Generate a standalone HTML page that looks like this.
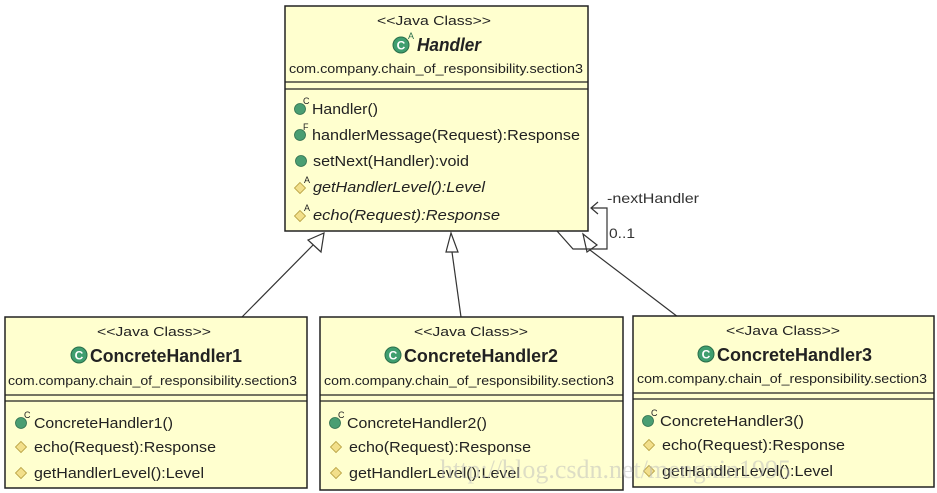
<!DOCTYPE html>
<html><head><meta charset="utf-8"><style>
body{margin:0;background:#fff;width:937px;height:493px;overflow:hidden}
svg{display:block;font-family:"Liberation Sans",Arial,sans-serif}
</style></head><body>
<svg width="937" height="493" viewBox="0 0 937 493" xmlns="http://www.w3.org/2000/svg">
<defs>
<g id="cg"><circle r="8" fill="#3f9e6f" stroke="#2a6e4a" stroke-width="1"/><text x="0" y="4.5" font-size="12" font-weight="bold" fill="#fff" text-anchor="middle">C</text></g>
<g id="dot"><circle r="5.5" fill="#4a9e72" stroke="#2f6f4f" stroke-width="0.8"/></g>
<g id="dia"><path d="M0,-5.5 L5.5,0 L0,5.5 L-5.5,0Z" fill="#f2df8a" stroke="#b39b3a" stroke-width="0.8"/></g>
</defs>

<g stroke="#333" stroke-width="1.2" fill="none">
<line x1="242" y1="317" x2="318" y2="240"/>
<path d="M324,233 L321,252 L308,240Z" fill="#fff"/>
<line x1="461" y1="317" x2="452" y2="252"/>
<path d="M451,233 L458,252 L446,252Z" fill="#fff"/>
<line x1="678" y1="317" x2="590" y2="250"/>
<path d="M583,234 L597,245 L587,252Z" fill="#fff"/>
<path d="M557,231 L573,249 L607,249 L607,208 L591,208"/>
<path d="M598,202 L591,208 L598,214"/>
</g>
<text x="607" y="203" font-size="14" fill="#333" textLength="92" lengthAdjust="spacingAndGlyphs">-nextHandler</text>
<text x="609" y="238" font-size="14" fill="#333" textLength="26" lengthAdjust="spacingAndGlyphs">0..1</text>

<!-- Handler -->
<rect x="285" y="6" width="303" height="225" fill="#ffffcf" stroke="#222" stroke-width="1.5"/>
<line x1="285" y1="82" x2="588" y2="82" stroke="#222" stroke-width="1.3"/>
<line x1="285" y1="89" x2="588" y2="89" stroke="#222" stroke-width="1.3"/>
<text x="377" y="25" font-size="13" fill="#222" textLength="114" lengthAdjust="spacingAndGlyphs">&lt;&lt;Java Class&gt;&gt;</text>
<use href="#cg" x="401" y="45"/><text x="408" y="39" font-size="9" fill="#2a6e4a">A</text>
<text x="417" y="51" font-size="18" font-weight="bold" font-style="italic" fill="#222" textLength="64" lengthAdjust="spacingAndGlyphs">Handler</text>
<text x="289" y="73" font-size="13" fill="#222" textLength="294" lengthAdjust="spacingAndGlyphs">com.company.chain_of_responsibility.section3</text>
<g font-size="14.5" fill="#222">
<use href="#dot" x="300" y="109"/><text x="303" y="104" font-size="9">C</text><text x="312" y="114" textLength="66" lengthAdjust="spacingAndGlyphs">Handler()</text>
<use href="#dot" x="300" y="135"/><text x="303" y="130" font-size="9">F</text><text x="312" y="140" textLength="268" lengthAdjust="spacingAndGlyphs">handlerMessage(Request):Response</text>
<use href="#dot" x="301" y="161"/><text x="313" y="166" textLength="156" lengthAdjust="spacingAndGlyphs">setNext(Handler):void</text>
<use href="#dia" x="300" y="188"/><text x="304" y="183" font-size="9">A</text><text x="313" y="192" font-style="italic" textLength="172" lengthAdjust="spacingAndGlyphs">getHandlerLevel():Level</text>
<use href="#dia" x="300" y="216"/><text x="304" y="211" font-size="9">A</text><text x="313" y="220" font-style="italic" textLength="187" lengthAdjust="spacingAndGlyphs">echo(Request):Response</text>
</g>

<!-- box1 -->
<g>
<rect x="5" y="317" width="302" height="171" fill="#ffffcf" stroke="#222" stroke-width="1.5"/>
<line x1="5" y1="395" x2="307" y2="395" stroke="#222" stroke-width="1.3"/>
<line x1="5" y1="401" x2="307" y2="401" stroke="#222" stroke-width="1.3"/>
<text x="97" y="336" font-size="13" fill="#222" textLength="114" lengthAdjust="spacingAndGlyphs">&lt;&lt;Java Class&gt;&gt;</text>
<use href="#cg" x="79" y="355"/>
<text x="90" y="362" font-size="18" font-weight="bold" fill="#222" textLength="152" lengthAdjust="spacingAndGlyphs">ConcreteHandler1</text>
<text x="8" y="385" font-size="13" fill="#222" textLength="289" lengthAdjust="spacingAndGlyphs">com.company.chain_of_responsibility.section3</text>
<g font-size="14.5" fill="#222">
<use href="#dot" x="21" y="423"/><text x="24" y="418" font-size="9">C</text><text x="34" y="428" textLength="139" lengthAdjust="spacingAndGlyphs">ConcreteHandler1()</text>
<use href="#dia" x="21" y="447"/><text x="34" y="452" textLength="182" lengthAdjust="spacingAndGlyphs">echo(Request):Response</text>
<use href="#dia" x="21" y="473"/><text x="34" y="478" textLength="170" lengthAdjust="spacingAndGlyphs">getHandlerLevel():Level</text>
</g></g>

<!-- box2 -->
<g>
<rect x="320" y="317" width="303" height="173" fill="#ffffcf" stroke="#222" stroke-width="1.5"/>
<line x1="320" y1="395" x2="623" y2="395" stroke="#222" stroke-width="1.3"/>
<line x1="320" y1="401" x2="623" y2="401" stroke="#222" stroke-width="1.3"/>
<text x="414" y="336" font-size="13" fill="#222" textLength="114" lengthAdjust="spacingAndGlyphs">&lt;&lt;Java Class&gt;&gt;</text>
<use href="#cg" x="393" y="355"/>
<text x="404" y="362" font-size="18" font-weight="bold" fill="#222" textLength="154" lengthAdjust="spacingAndGlyphs">ConcreteHandler2</text>
<text x="324" y="385" font-size="13" fill="#222" textLength="290" lengthAdjust="spacingAndGlyphs">com.company.chain_of_responsibility.section3</text>
<g font-size="14.5" fill="#222">
<use href="#dot" x="335" y="423"/><text x="338" y="418" font-size="9">C</text><text x="347" y="428" textLength="140" lengthAdjust="spacingAndGlyphs">ConcreteHandler2()</text>
<use href="#dia" x="336" y="447"/><text x="349" y="452" textLength="182" lengthAdjust="spacingAndGlyphs">echo(Request):Response</text>
<use href="#dia" x="336" y="473"/><text x="349" y="478" textLength="171" lengthAdjust="spacingAndGlyphs">getHandlerLevel():Level</text>
</g></g>

<!-- box3 -->
<g>
<rect x="633" y="316" width="301" height="171" fill="#ffffcf" stroke="#222" stroke-width="1.5"/>
<line x1="633" y1="393" x2="934" y2="393" stroke="#222" stroke-width="1.3"/>
<line x1="633" y1="399" x2="934" y2="399" stroke="#222" stroke-width="1.3"/>
<text x="726" y="335" font-size="13" fill="#222" textLength="114" lengthAdjust="spacingAndGlyphs">&lt;&lt;Java Class&gt;&gt;</text>
<use href="#cg" x="706" y="354"/>
<text x="717" y="361" font-size="18" font-weight="bold" fill="#222" textLength="155" lengthAdjust="spacingAndGlyphs">ConcreteHandler3</text>
<text x="637" y="383" font-size="13" fill="#222" textLength="290" lengthAdjust="spacingAndGlyphs">com.company.chain_of_responsibility.section3</text>
<g font-size="14.5" fill="#222">
<use href="#dot" x="648" y="421"/><text x="651" y="416" font-size="9">C</text><text x="660" y="426" textLength="144" lengthAdjust="spacingAndGlyphs">ConcreteHandler3()</text>
<use href="#dia" x="649" y="445"/><text x="662" y="450" textLength="183" lengthAdjust="spacingAndGlyphs">echo(Request):Response</text>
<use href="#dia" x="649" y="471"/><text x="662" y="476" textLength="171" lengthAdjust="spacingAndGlyphs">getHandlerLevel():Level</text>
</g></g>

<text x="440" y="478" font-size="26" font-family="Liberation Serif,serif" fill="#bbb" fill-opacity="0.5">http://blog.csdn.net/mengxin1995</text>
</svg>
</body></html>
